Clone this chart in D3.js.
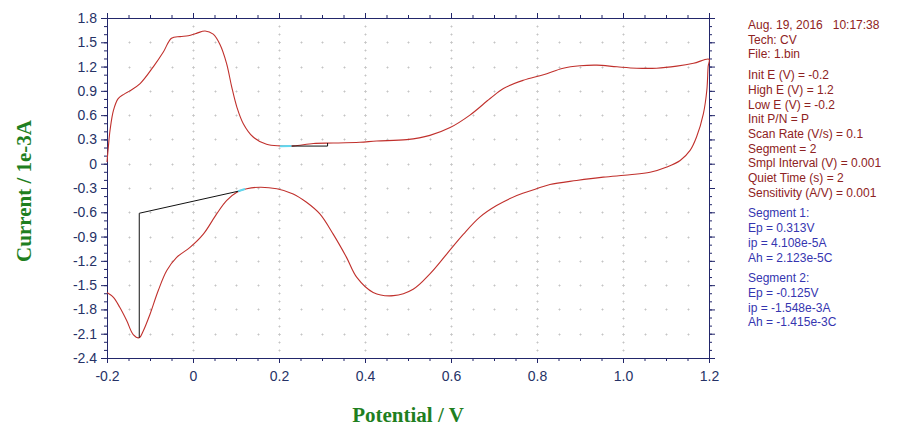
<!DOCTYPE html>
<html><head><meta charset="utf-8">
<script src="https://cdn.jsdelivr.net/npm/d3@7"></script>
<style>
html,body{margin:0;padding:0;background:#fff;}
svg{display:block;}
</style></head>
<body>
<svg id="chart" width="900" height="438"></svg>
<script>
// ---- data ----
const fwdV = [-0.2,-0.197,-0.193,-0.185,-0.174,-0.160,-0.147,-0.123,-0.092,-0.069,-0.050,-0.030,-0.011,0.008,0.028,0.047,0.063,0.078,0.090,0.102,0.117,0.140,0.171,0.202,0.234,0.280,0.326,0.388,0.427,0.497,0.551,0.598,0.644,0.691,0.722,0.768,0.815,0.861,0.900,0.939,0.986,1.032,1.078,1.125,1.164,1.2];
const fwdI = [0.02,0.2,0.41,0.66,0.805,0.86,0.90,0.99,1.20,1.38,1.55,1.57,1.58,1.61,1.64,1.60,1.47,1.24,0.95,0.70,0.495,0.33,0.24,0.22,0.22,0.25,0.255,0.265,0.28,0.297,0.35,0.446,0.60,0.805,0.93,1.03,1.10,1.18,1.21,1.218,1.197,1.18,1.18,1.205,1.24,1.29];
const revV = [1.198,1.195,1.187,1.171,1.156,1.133,1.102,1.063,1.016,0.954,0.892,0.830,0.799,0.753,0.706,0.667,0.629,0.590,0.551,0.512,0.466,0.419,0.381,0.357,0.326,0.295,0.264,0.233,0.195,0.156,0.125,0.102,0.078,0.055,0.024,-0.007,-0.038,-0.061,-0.081,-0.100,-0.116,-0.125,-0.139,-0.154,-0.170,-0.185,-0.2];
const revI = [1.20,0.91,0.62,0.33,0.164,0.04,-0.04,-0.105,-0.137,-0.166,-0.207,-0.257,-0.31,-0.393,-0.517,-0.66,-0.87,-1.116,-1.36,-1.55,-1.63,-1.59,-1.405,-1.157,-0.87,-0.62,-0.476,-0.373,-0.31,-0.29,-0.31,-0.352,-0.455,-0.62,-0.87,-1.034,-1.157,-1.32,-1.57,-1.86,-2.07,-2.15,-2.11,-1.94,-1.777,-1.65,-1.59];

const base1V = [0.229,0.313,0.313];
const base1I = [0.218,0.218,0.256];
const base2V = [-0.125,-0.125,0.105];
const base2I = [-2.15,-0.612,-0.34];
const cyan1V = [0.202,0.229];
const cyan1I = [0.215,0.218];
const cyan2V = [0.105,0.121];
const cyan2I = [-0.34,-0.312];

const xTicks = [-0.2,0,0.2,0.4,0.6,0.8,1.0,1.2];
const xTickLabels = ["-0.2","0","0.2","0.4","0.6","0.8","1.0","1.2"];
const yTicks = [1.8,1.5,1.2,0.9,0.6,0.3,0,-0.3,-0.6,-0.9,-1.2,-1.5,-1.8,-2.1,-2.4];
const yTickLabels = ["1.8","1.5","1.2","0.9","0.6","0.3","0","-0.3","-0.6","-0.9","-1.2","-1.5","-1.8","-2.1","-2.4"];
const xMinor = d3.range(-4, 25).map(d => d * 0.05);
const yMinor = d3.range(-24, 19).map(d => d / 10);

const infoRed = ["Aug. 19, 2016   10:17:38","Tech: CV","File: 1.bin",null,"Init E (V) = -0.2","High E (V) = 1.2","Low E (V) = -0.2","Init P/N = P","Scan Rate (V/s) = 0.1","Segment = 2","Smpl Interval (V) = 0.001","Quiet Time (s) = 2","Sensitivity (A/V) = 0.001"];
const infoBlue = ["Segment 1:","Ep = 0.313V","ip = 4.108e-5A","Ah = 2.123e-5C",null,"Segment 2:","Ep = -0.125V","ip = -1.548e-3A","Ah = -1.415e-3C"];

// ---- drawing ----
const svg = d3.select("#chart");
const x = d3.scaleLinear().domain([-0.2, 1.2]).range([107, 709]);
const y = d3.scaleLinear().domain([-2.4, 1.8]).range([358, 18]);
const axisCol = "#22266a";
const labCol = "#263266";

// grid dots
const gridG = svg.append("g");
const dots = [];
yTicks.filter(v => v > -2.4 && v < 1.8).forEach(yv => {
  xMinor.filter(v => v > -0.2 + 1e-9 && v < 1.2 - 1e-9).forEach(xv => dots.push([xv, yv]));
});
xTicks.filter(v => v > -0.2 && v < 1.2).forEach(xv => {
  yMinor.filter(v => v > -2.4 + 1e-9 && v < 1.8 - 1e-9).forEach(yv => dots.push([xv, yv]));
});
gridG.selectAll("path").data(dots).join("path")
  .attr("d", d => { const px = Math.round(x(d[0])) + 0.5, py = Math.round(y(d[1])) + 0.5;
    return `M${px-1},${py}H${px+1}M${px},${py-1}V${py+1}`; })
  .attr("stroke", "#c4c4c4").attr("stroke-width", 1).attr("fill", "none");

function styleAxis(g) {
  g.selectAll(".domain").attr("stroke", axisCol);
  g.selectAll(".tick line").attr("stroke", axisCol);
  g.selectAll("text").attr("fill", labCol).style("font-family", "Arial, 'Liberation Sans', sans-serif").style("font-size", "14px");
}
const fmtX = v => xTickLabels[xTicks.findIndex(t => Math.abs(t - v) < 1e-9)];
const fmtY = v => yTickLabels[yTicks.findIndex(t => Math.abs(t - v) < 1e-9)];

// left
svg.append("g").attr("transform", "translate(107,0)").call(d3.axisLeft(y).tickValues(yMinor).tickSize(3).tickSizeOuter(0).tickFormat("")).call(styleAxis);
svg.append("g").attr("transform", "translate(107,0)").call(d3.axisLeft(y).tickValues(yTicks).tickSize(6).tickSizeOuter(0).tickPadding(4).tickFormat(fmtY)).call(styleAxis);
// right
svg.append("g").attr("transform", "translate(709,0)").call(d3.axisRight(y).tickValues(yMinor).tickSize(3).tickSizeOuter(0).tickFormat("")).call(styleAxis);
svg.append("g").attr("transform", "translate(709,0)").call(d3.axisRight(y).tickValues(yTicks).tickSize(6).tickSizeOuter(0).tickFormat("")).call(styleAxis);
// bottom
svg.append("g").attr("transform", "translate(0,358)").call(d3.axisBottom(x).tickValues(xMinor).tickSize(3).tickSizeOuter(0).tickFormat("")).call(styleAxis);
svg.append("g").attr("transform", "translate(0,358)").call(d3.axisBottom(x).tickValues(xTicks).tickSize(5).tickSizeOuter(0).tickPadding(8).tickFormat(fmtX)).call(styleAxis);
// top
svg.append("g").attr("transform", "translate(0,18)").call(d3.axisTop(x).tickValues(xMinor).tickSize(3).tickSizeOuter(0).tickFormat("")).call(styleAxis);
svg.append("g").attr("transform", "translate(0,18)").call(d3.axisTop(x).tickValues(xTicks).tickSize(5).tickSizeOuter(0).tickFormat("")).call(styleAxis);

// curve
const pts = fwdV.map((v, i) => [v, fwdI[i]]).concat(revV.map((v, i) => [v, revI[i]]));
const line = d3.line().x(d => x(d[0])).y(d => y(d[1])).curve(d3.curveCatmullRom.alpha(0.5));
svg.append("path").datum(pts).attr("d", line).attr("fill", "none").attr("stroke", "#c0302c").attr("stroke-width", 1.1);

const lin = d3.line().x(d => x(d[0])).y(d => y(d[1]));
const zipP = (a, b) => a.map((v, i) => [v, b[i]]);
svg.append("path").datum(zipP(base1V, base1I)).attr("d", lin).attr("fill", "none").attr("stroke", "#111").attr("stroke-width", 1);
svg.append("path").datum(zipP(base2V, base2I)).attr("d", lin).attr("fill", "none").attr("stroke", "#111").attr("stroke-width", 1);
svg.append("path").datum(zipP(cyan1V, cyan1I)).attr("d", lin).attr("fill", "none").attr("stroke", "#5fd8f0").attr("stroke-width", 2);
svg.append("path").datum(zipP(cyan2V, cyan2I)).attr("d", lin).attr("fill", "none").attr("stroke", "#5fd8f0").attr("stroke-width", 2);

// axis titles
svg.append("text").attr("x", 408).attr("y", 422).attr("text-anchor", "middle")
  .style("font-family", "'Times New Roman', 'Liberation Serif', serif").style("font-weight", "bold").style("font-size", "21px")
  .attr("fill", "#1f7f1f").text("Potential / V");
svg.append("text").attr("transform", "translate(31,191) rotate(-90)").attr("text-anchor", "middle")
  .style("font-family", "'Times New Roman', 'Liberation Serif', serif").style("font-weight", "bold").style("font-size", "21px")
  .attr("fill", "#1f7f1f").text("Current / 1e-3A");

// info panel
const info = svg.append("g").style("font-family", "Arial, 'Liberation Sans', sans-serif").style("font-size", "12px");
let yy = 29;
infoRed.forEach(t => {
  if (t === null) { yy += 6; return; }
  info.append("text").attr("x", 748).attr("y", yy).attr("fill", "#8e2222").attr("xml:space", "preserve").style("white-space", "pre").text(t);
  yy += 14.7;
});
yy += 6;
infoBlue.forEach(t => {
  if (t === null) { yy += 6; return; }
  info.append("text").attr("x", 748).attr("y", yy).attr("fill", "#3535b0").text(t);
  yy += 14.7;
});
</script>
</body></html>
